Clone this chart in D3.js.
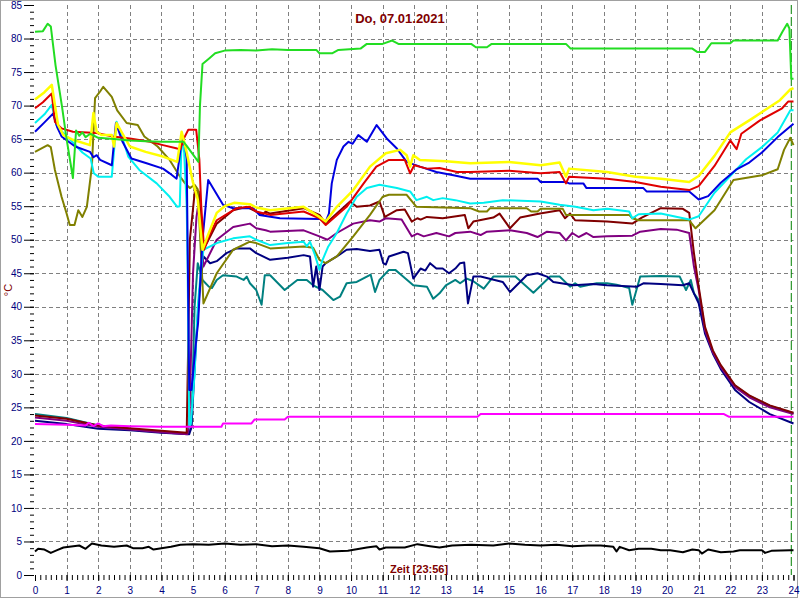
<!DOCTYPE html>
<html><head><meta charset="utf-8">
<script src="https://cdn.jsdelivr.net/npm/d3@7"></script>
<style>html,body{margin:0;padding:0;background:#fff;}svg{display:block;font-family:Arial,"Liberation Sans",sans-serif;}</style>
</head><body>
<svg id="c" width="800" height="600"></svg>
<script>
const title = "Do, 07.01.2021";
const xLabel = "Zeit [23:56]";
const yLabel = "°C";
const xTicks = d3.range(0, 25, 1);
const yTicks = d3.range(0, 90, 5);
const nowHour = 23.93;

const green = [[0,81],[0.25,81.1],[0.4,82.2],[0.5,81.8],[0.65,76],[0.85,70],[1.0,65],[1.2,59.2],[1.3,66.3],[1.4,65.5],[1.5,66],[1.6,65.3],[1.75,65.8],[2.0,65.2],[2.5,65],[3.0,64.8],[3.5,64.7],[4.0,64.6],[4.7,64.6],[4.8,64],[5.17,61.6],[5.22,70],[5.3,76.2],[5.5,77],[5.7,77.8],[6,78.2],[6.5,78.3],[7,78.2],[7.5,78.4],[8,78.3],[8.9,78.3],[9.0,77.8],[9.4,77.8],[9.6,78.3],[10.3,78.5],[10.5,79.2],[11.0,79.2],[11.3,79.7],[11.5,79.2],[13.8,79.2],[13.95,78.7],[14.3,78.7],[14.45,79.2],[16.8,79.2],[16.95,78.5],[20.8,78.5],[20.95,78],[21.2,78],[21.4,79.3],[22,79.3],[22.1,79.7],[23.5,79.7],[23.65,81],[23.8,82.2],[23.87,81.5],[23.93,74],[24,74]];
const yellow = [[0,70.9],[0.3,72],[0.53,73.1],[0.73,67.1],[0.9,65.6],[1.2,64.9],[1.74,64.1],[1.85,68.9],[1.95,66.1],[2.1,65.6],[2.43,65.6],[2.5,63.9],[2.58,67.4],[3.0,63.9],[3.5,63.1],[4.05,62.4],[4.5,61.6],[4.64,66.1],[4.7,65],[4.8,63],[5.0,58.5],[5.15,56],[5.3,48.5],[5.5,51],[5.75,54],[6.0,55],[6.3,55.5],[6.8,55.3],[7.0,54.8],[7.44,54.4],[8.5,54.9],[9.0,53.4],[9.2,52.7],[9.55,54.9],[10.07,57.4],[10.6,60.9],[11.1,62.9],[11.55,63.4],[11.76,62.6],[11.87,60.9],[11.97,62.6],[12.18,61.9],[13.0,61.7],[13.77,61.4],[15.0,61.6],[16.0,61.1],[16.6,61.5],[16.8,59.4],[16.9,60.6],[18.1,60.1],[19.0,59.4],[19.8,59.1],[20.7,58.6],[21.0,59.5],[21.5,62.5],[22.0,66],[22.7,68.1],[23.57,70.8],[23.9,72.4],[24,72.6]];
const red = [[0,69.6],[0.25,70.5],[0.53,71.8],[0.63,67.6],[0.84,66.6],[1.2,66.1],[1.95,65.9],[2.46,65.4],[3.0,65.1],[3.64,64.6],[4.05,64.1],[4.5,63.6],[4.6,63.5],[4.7,65],[4.85,66.4],[5.1,66.4],[5.2,62],[5.26,55],[5.35,48.5],[5.5,50.5],[5.75,52.9],[6.38,54.7],[6.8,54.9],[7.0,54.2],[7.44,53.7],[8.5,54.2],[9.0,53.2],[9.2,52.2],[9.86,54.9],[10.4,58.4],[10.8,60.9],[11.2,61.9],[11.7,61.9],[11.87,59.9],[12.0,61.1],[12.4,60.6],[12.8,60.7],[13.35,60.1],[13.77,60.1],[15.0,60.3],[16.0,59.9],[16.6,60.1],[16.8,58.4],[16.9,59.4],[18.1,59.1],[19.0,58.6],[19.8,57.9],[20.7,57.4],[21.0,58],[21.5,61],[22.0,64.8],[22.2,63.5],[22.35,65.8],[22.94,67.8],[23.64,69.6],[23.83,70.6],[24,70.6]];
const blue = [[0,66.1],[0.3,67.5],[0.57,68.8],[0.7,66.8],[0.84,65.4],[1.27,63.9],[1.74,63.1],[1.85,62.3],[1.95,62.6],[2.06,61.9],[2.43,61.1],[2.56,67.4],[2.77,64.6],[3.05,62.1],[3.53,61.4],[4.05,60.6],[4.26,59.9],[4.48,59.1],[4.64,64.6],[4.75,64],[4.8,62],[4.88,27.6],[4.95,27.6],[5.1,35],[5.16,37.6],[5.3,50],[5.48,58.9],[5.95,55.2],[6.27,54.7],[6.9,54.7],[7.1,53.7],[7.75,53.2],[9.0,53.1],[9.2,52.7],[9.3,53.9],[9.39,58.4],[9.55,61.9],[9.76,63.9],[9.92,64.6],[10.05,64.3],[10.23,65.6],[10.5,64.6],[10.81,67.1],[11.13,65.1],[11.45,63.6],[11.76,61.6],[12.18,60.9],[12.7,60.1],[13.24,59.6],[13.77,59.1],[15.9,59.1],[16.0,58.6],[16.8,58.6],[16.9,58.4],[17.35,58.4],[17.45,57.7],[19.25,57.7],[19.35,57.2],[20.7,57.2],[21.0,56],[21.3,56.5],[21.7,58.5],[22.2,60.5],[22.6,61.5],[23.0,63],[23.5,65.3],[24,67.3]];
const cyan = [[0,67.4],[0.3,68.7],[0.53,70.1],[0.68,67.1],[0.9,65.9],[1.2,64.5],[1.5,63],[1.76,62.1],[1.86,59.9],[2.0,59.4],[2.43,59.4],[2.58,67.6],[2.75,65.4],[2.95,62.4],[3.3,60.4],[3.85,58.4],[4.26,56.4],[4.5,54.9],[4.58,55],[4.64,65.4],[4.72,63],[4.8,55],[4.83,45.5],[4.88,22],[4.93,22.5],[5.05,30],[5.15,40],[5.25,45.5],[5.33,48.5],[5.75,49.5],[6.27,50.2],[6.8,50.5],[7.0,50],[7.44,49.2],[8.0,49.5],[8.5,49.7],[8.6,49],[8.7,49.7],[8.86,47.7],[9.0,45.5],[9.1,47],[9.28,49],[9.55,51],[9.86,53.9],[10.18,56.4],[10.5,57.7],[10.9,58.2],[11.45,57.7],[11.87,57.2],[12.07,55.9],[12.4,56.4],[12.6,55.9],[12.9,56.2],[13.3,55.9],[13.77,55.4],[14.2,55.5],[14.8,55.9],[16.0,55.7],[16.6,55.2],[17.1,54.9],[17.67,54.4],[18.1,54.6],[18.8,54.2],[18.9,53.2],[19.1,53.8],[19.8,53.9],[20.7,53],[21.0,53.5],[21.5,57],[22.0,59.5],[22.5,62],[23,63.8],[23.5,66],[23.9,69.3],[24,69.3]];
const olive = [[0,63.1],[0.4,64.1],[0.5,63.8],[0.63,60.4],[0.84,56.4],[1.0,53.9],[1.1,52.2],[1.25,52.2],[1.37,54.4],[1.5,53.4],[1.64,54.9],[1.8,60.9],[1.9,71.1],[2.06,72.1],[2.16,72.8],[2.43,71.3],[2.6,69.3],[2.9,67.4],[3.25,67.1],[3.46,65.4],[3.88,63.9],[4.26,61.9],[4.59,59.4],[4.75,58.4],[4.9,57.7],[5.05,58.2],[5.15,57.5],[5.33,40.5],[5.75,45],[6.27,48.5],[6.8,49.7],[7.0,49.5],[7.44,48.7],[8.5,49],[8.8,48.8],[9.0,47],[9.2,46.5],[9.55,47.5],[10.07,50.5],[10.6,53.7],[11.0,56.4],[11.2,56.7],[11.76,56.7],[12.07,54.9],[13.77,54.7],[14.05,54.2],[14.3,54.2],[14.4,54.7],[15.56,54.7],[15.7,54.2],[15.9,54.2],[16.0,54.6],[16.7,54.6],[16.8,53.7],[18.8,53.7],[18.9,53.2],[19.1,52.9],[20.7,52.9],[20.9,51.7],[21.5,54.4],[22.1,58.9],[23.0,59.6],[23.5,60.5],[23.7,63.4],[23.9,65.2],[24,64.1]];
const maroon = [[0,23.8],[1,23.3],[2,22.3],[3,21.9],[4,21.5],[4.8,21.2],[4.85,35],[4.9,50],[5.06,57.4],[5.18,57.2],[5.33,48.5],[5.75,52.4],[6.27,54.4],[6.7,54.9],[7.0,54.2],[7.2,53.7],[7.3,54.2],[7.44,53.9],[8.5,54.7],[9.0,53.7],[9.2,52.4],[9.55,53.9],[9.97,55.7],[10.18,54.9],[10.6,55.1],[10.9,55.7],[11.07,53.4],[11.45,54.4],[11.7,54.5],[11.92,52.7],[12.1,53.2],[12.2,53],[12.4,53.4],[12.9,53.2],[13.6,53.7],[13.71,51.7],[13.87,52.7],[14.5,53.3],[14.7,53.9],[15.03,51.7],[15.35,53.3],[15.98,53.9],[16.6,54.4],[16.77,53.2],[16.93,53.9],[17.09,52.9],[18.1,52.7],[18.9,52.4],[19.2,53.3],[19.8,54.7],[20.5,54.6],[20.7,54],[20.85,48],[21.0,43],[21.2,37],[21.45,33.5],[21.7,31.3],[22.15,28.3],[22.6,26.8],[23.25,25.3],[24,24.2]];
const purple = [[0,23.5],[1,23],[2,22.1],[3,21.7],[4,21.3],[4.82,21],[4.88,22.1],[5.0,45],[5.11,53.4],[5.15,54.7],[5.2,54],[5.33,46],[5.75,50],[6.27,51.9],[6.8,52.4],[7.0,51.7],[7.3,51.4],[7.44,51.2],[8.5,51.4],[9.0,50.5],[9.25,50],[9.55,51],[10.07,52.4],[10.6,52.9],[10.9,52.7],[11.1,53.2],[11.6,53],[11.92,50.5],[12.1,50.9],[12.3,50.5],[12.7,51],[13.1,50.5],[13.3,51],[13.77,51.2],[14.1,50.7],[14.3,51.2],[15.03,51.4],[15.56,51],[15.9,50.4],[16.2,51.2],[16.6,51],[16.8,49.9],[17.0,51],[17.2,50.4],[17.45,51],[17.67,50.4],[18.1,50.5],[18.9,50.6],[19.15,51.2],[19.8,51.6],[20.3,51.5],[20.7,51],[20.85,46],[21.0,42.5],[21.2,36.5],[21.45,33.2],[21.7,31],[22.15,28],[22.6,26.5],[23.25,25],[24,24.0]];
const navy = [[0,23],[1,22.5],[2,21.8],[3,21.6],[4,21.2],[4.88,21],[4.95,22],[5.1,35],[5.2,42],[5.33,47.5],[5.54,46.5],[5.75,46.8],[6.06,48],[6.38,48.7],[6.8,48.7],[7.0,48],[7.44,47],[8.0,47.3],[8.5,47.7],[8.7,47.5],[8.8,43],[8.9,46],[9.0,42.5],[9.1,46],[9.2,46.5],[9.55,47.5],[9.86,48.5],[10.18,48.6],[10.6,48.3],[10.9,48.5],[11.02,46.5],[11.1,46.3],[11.2,47.5],[11.66,48.2],[11.8,48],[11.97,44.2],[12.2,45.7],[12.35,45.4],[12.5,46.5],[12.7,45.7],[12.9,45.7],[13.1,45],[13.3,45.7],[13.45,46.5],[13.58,46.6],[13.7,40.5],[13.87,44.5],[14.1,44.5],[14.8,43.7],[15.03,42.2],[15.56,44.7],[15.9,45],[16.2,44.5],[16.4,43.7],[17.05,43.2],[17.67,43.4],[18.1,43.2],[19.05,43],[19.25,43.5],[19.8,43.4],[20.5,43.2],[20.7,43.5],[20.85,42],[21.0,40.5],[21.2,36],[21.45,33],[21.7,30.7],[22.15,27.6],[22.6,25.8],[23.25,24],[24,22.6]];
const teal = [[0,24],[1,23.4],[2,22.3],[3,21.8],[4,21.3],[4.85,21.1],[4.95,22],[5.05,40],[5.15,46.5],[5.3,44],[5.5,43],[5.6,42.8],[5.75,44],[5.95,44.7],[6.38,44.5],[6.6,44],[6.7,44.5],[6.8,43.5],[7.0,42.5],[7.17,40.3],[7.27,44.7],[7.44,44.7],[7.9,42.5],[8.3,44],[8.6,44],[8.8,43.2],[9.1,42.5],[9.44,41],[9.65,41.5],[9.86,43.5],[10.18,43.7],[10.5,44.5],[10.62,44.8],[10.76,42.2],[10.9,44],[11.2,45.5],[11.4,45.5],[11.6,44.7],[11.97,43.2],[12.4,43],[12.6,41.2],[12.8,42],[13.0,43.2],[13.3,44],[13.45,43.5],[13.66,44.2],[13.87,43.8],[14.2,42.7],[14.5,44.5],[15.2,44.5],[15.77,42.1],[16.3,44.5],[16.6,44.5],[16.93,43],[17.09,43.5],[17.25,43],[17.77,43.5],[18.1,43.5],[18.4,43.3],[18.8,42.8],[18.9,40.3],[19.15,44.5],[19.8,44.6],[20.4,44.5],[20.6,42.5],[20.75,44],[20.85,42],[21.0,41],[21.2,36.5],[21.45,33.3],[21.7,31.1],[22.15,28.2],[22.6,26.7],[23.25,25.2],[24,24.1]];
const magenta = [[0,22.5],[1.0,22.4],[1.6,22.3],[1.7,22.7],[1.85,22.2],[2.0,22.6],[2.15,22.2],[2.4,22.3],[3,22.2],[4,22.1],[5,22.1],[5.9,22.1],[5.95,22.6],[6.85,22.6],[6.95,23.2],[7.9,23.2],[8.0,23.6],[14.0,23.6],[14.1,24.0],[21.8,24.0],[21.95,23.6],[24,23.6]];
const black = [[0,3.5],[0.1,3.9],[0.3,3.8],[0.5,3.3],[0.7,3.7],[0.9,4.1],[1.4,4.4],[1.6,3.9],[1.8,4.7],[2.1,4.4],[2.5,4.2],[2.9,4.4],[3.1,4.0],[3.4,4.0],[3.6,4.2],[3.75,3.8],[4.0,4.0],[4.3,4.2],[4.6,4.5],[5.0,4.6],[5.5,4.5],[6,4.7],[6.5,4.5],[7,4.6],[7.5,4.3],[8,4.4],[8.5,4.2],[9.0,4.0],[9.33,3.5],[9.9,3.6],[10.5,4.1],[10.8,4.3],[10.9,3.8],[11.1,4.1],[11.4,4.1],[11.7,4.1],[12.1,4.6],[12.5,4.3],[12.8,4.1],[13.2,4.4],[13.8,4.5],[14.5,4.4],[15,4.7],[15.5,4.5],[16,4.4],[16.5,4.5],[17,4.3],[17.5,4.4],[17.9,4.4],[18.3,4.2],[18.4,3.5],[18.5,4.2],[18.8,3.7],[19.1,3.9],[19.5,3.9],[19.8,3.7],[20.1,3.7],[20.5,3.4],[20.8,3.8],[21.0,3.7],[21.1,3.2],[21.3,3.8],[21.7,3.4],[22.1,3.5],[22.3,3.7],[23.0,3.7],[23.1,3.3],[23.3,3.6],[23.9,3.7],[24,3.7]];

const seriesList = [teal, navy, purple, maroon, olive, cyan, blue, red, yellow, green, magenta, black];
const seriesColors = ["#008080","#000080","#800080","#800000","#808000","#00f0f0","#0000e0","#e00000","#ffff00","#22dd22","#ff00ff","#000000"];

const svg = d3.select("#c");
const x = d3.scaleLinear().domain([0, 24]).range([35, 793.5]);
const y = d3.scaleLinear().domain([0, 85]).range([575, 5]);

svg.append("rect").attr("x",0).attr("y",0).attr("width",800).attr("height",600).attr("fill","#fff");
svg.append("rect").attr("x",0.5).attr("y",0.5).attr("width",797).attr("height",597)
  .attr("fill","none").attr("stroke","#a0a0a0").attr("stroke-width",1);

// grid
const grid = svg.append("g").attr("stroke","#808080").attr("stroke-dasharray","4,3").attr("stroke-width",1);
grid.selectAll("line.v").data(xTicks.filter(d => d > 0 && d < 24)).join("line")
  .attr("x1", d => Math.round(x(d)) + 0.5).attr("x2", d => Math.round(x(d)) + 0.5)
  .attr("y1", y(85)).attr("y2", y(0));
grid.selectAll("line.h").data(yTicks.filter(d => d > 0 && d < 85)).join("line")
  .attr("y1", d => Math.round(y(d)) + 0.5).attr("y2", d => Math.round(y(d)) + 0.5)
  .attr("x1", x(0)).attr("x2", x(24));

// axes
const yMinor = svg.append("g").attr("transform","translate(34,0)")
  .call(d3.axisLeft(y).tickValues(d3.range(0, 86, 1)).tickSize(4).tickFormat(""));
const yAxis = svg.append("g").attr("transform","translate(34,0)")
  .call(d3.axisLeft(y).tickValues(yTicks).tickSize(10).tickPadding(2));
const xMinor = svg.append("g").attr("transform","translate(0,575)")
  .call(d3.axisBottom(x).tickValues(d3.range(0, 24.01, 1/6)).tickSize(5).tickFormat(""));
const xAxis = svg.append("g").attr("transform","translate(0,575)")
  .call(d3.axisBottom(x).tickValues(xTicks).tickSize(6).tickPadding(6));
[yMinor, yAxis, xMinor, xAxis].forEach(g => {
  g.select(".domain").remove();
  g.selectAll(".tick line").attr("stroke","#000").attr("stroke-width",1);
  g.selectAll("text").attr("fill","#000080").attr("font-size","10px")
    .attr("font-family","Arial, 'Liberation Sans', sans-serif");
});

// current time marker
svg.append("line").attr("x1", x(nowHour)).attr("x2", x(nowHour))
  .attr("y1", y(85)).attr("y2", y(0))
  .attr("stroke","#008000").attr("stroke-width",1).attr("stroke-dasharray","9,3");

// lines
const line = d3.line().x(d => x(d[0])).y(d => y(d[1]));
svg.append("g").selectAll("path").data(seriesList).join("path")
  .attr("d", line).attr("fill","none")
  .attr("stroke", (d, i) => seriesColors[i])
  .attr("stroke-width", (d, i) => seriesColors[i] === "#ffff00" ? 2.5 : 2)
  .attr("stroke-linejoin","round");

// texts
svg.append("text").attr("x", 400).attr("y", 23).attr("text-anchor","middle")
  .attr("fill","#800000").attr("font-weight","bold").attr("font-size","13px").text(title);
svg.append("text").attr("x", 390).attr("y", 573).attr("text-anchor","start")
  .attr("fill","#800000").attr("font-weight","bold").attr("font-size","11px").text(xLabel);
svg.append("text").attr("transform","translate(12,290) rotate(-90)").attr("text-anchor","middle")
  .attr("fill","#800000").attr("font-size","11px").text(yLabel);
</script>
</body></html>
